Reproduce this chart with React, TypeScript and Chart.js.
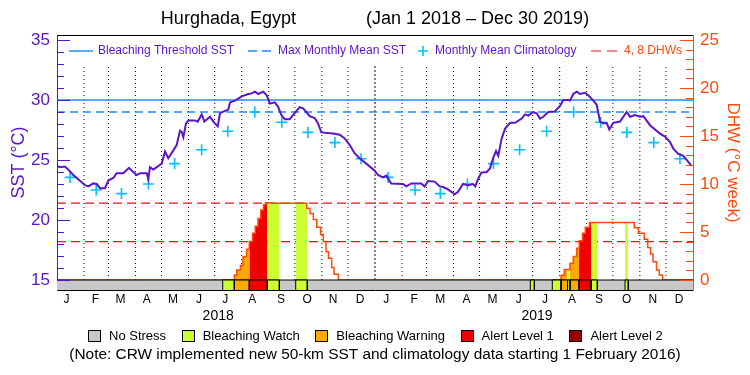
import React, { useEffect, useRef } from 'react';
import { Chart, registerables } from 'chart.js';

Chart.register(...registerables);

// ---------------- data ----------------
const monthLabels = ['J','F','M','A','M','J','J','A','S','O','N','D','J','F','M','A','M','J','J','A','S','O','N','D'];
const monthLabelDays = [11,44,73,103,133,163,193,224,257,287,317,348,378,410,440,470,500,530,560,591,622,654,684,714];
const monthStartDays = [31,59,90,120,151,181,212,243,273,304,334,396,424,455,485,516,546,577,608,638,669,699];
const yearStartDays = [365];
const yearLabels = ['2018', '2019'];
const yearLabelDays = [185, 551];

const sstDays = [0,3.4,9.2,13,18.7,24.4,32.1,35.9,41.7,45.6,49.4,55.1,58.9,64.6,68.5,76.1,82.6,87.6,91.5,95.3,103,104.8,106.7,110.5,112.5,116.3,120.2,124,127.7,133.5,137.4,141.2,143.1,145,148.1,150.7,158.4,161.5,166.1,169.1,175.6,179.4,184.5,187.1,192.8,196.6,198.6,204.3,212,219.6,223.5,227.3,231,236.8,240.7,244.5,249.9,253.7,257.5,261.4,267.1,272.8,278.6,282.4,286.1,290,295.8,299.6,303.4,316.8,324.5,330.2,336,341.7,347.4,355,364.7,368.4,374.2,378,383.7,397.1,400.9,406.7,418.1,422,425.8,433.5,439.3,443.1,448.8,456.5,460.3,466,471.7,477.5,480.1,483.2,487,493.2,497,500.8,503.9,506.5,510.4,514.2,520,525.7,533.4,537.2,541,546.7,550.6,554.4,558.2,563.9,571.6,577.3,581.1,586.9,588.8,592.6,596.5,600.3,606,609.8,615.6,619.5,623.3,627,630.9,633.9,638.5,646.2,653.9,657.7,663.4,669.2,673,680.7,686.4,692.1,697.9,703.6,707.4,713.1,718.9,724.6,728.5];
const sstValues = [24.5,24.4,24.45,24.2,23.75,23.4,22.9,22.8,23.05,23.0,22.65,22.65,23.3,23.5,23.9,23.9,24.35,24.0,23.75,23.9,23.9,23.4,24.4,24.2,24.3,24.5,24.7,25.7,25.15,25.8,26.25,27.45,27.35,26.9,28.05,28.3,28.3,28.2,28.8,28.2,28.6,28.2,27.8,28.9,29.1,29.2,29.8,29.95,30.3,30.5,30.55,30.7,30.5,30.7,30.4,29.7,29.8,29.45,28.75,28.4,28.4,28.9,29.4,29.3,29.0,28.65,28.5,28.05,27.3,27.2,27.1,26.8,26.25,25.55,25.15,24.7,24.1,23.75,23.55,23.7,23.05,23.0,22.8,23.05,23.05,22.8,23.25,23.2,22.8,22.75,22.55,22.15,22.35,23.0,22.9,23.0,22.8,23.4,23.95,24.0,24.3,25.2,25.75,25.35,26.8,27.6,28.1,28.1,28.45,28.8,28.7,29.0,28.9,28.45,28.6,29.0,29.05,29.5,30.0,30.0,29.95,30.5,30.7,30.5,30.6,30.4,29.95,29.6,28.2,28.05,28.1,27.55,28.1,28.2,29.0,28.6,28.75,28.6,28.65,27.9,27.55,27.2,26.95,26.5,25.95,25.5,25.35,24.85,24.5];

const climDays = [15,45,74,105,135,166,196,227,258,288,319,349,380,411,440,471,501,531,562,593,624,654,685,715];
const climValues = [23.55,22.5,22.2,23.0,24.7,25.85,27.4,29.0,28.15,27.3,26.45,25.1,23.55,22.5,22.2,23.0,24.7,25.85,27.4,29.0,28.15,27.3,26.45,25.1];

const mmmSst = 29.0;
const thresholdSst = 30.0;

const dhwDays = [0,203.5,206.3,210.6,213.5,217.5,220.7,224.4,227.5,230.7,233.9,237.0,239.3,247.0,286.6,290.4,294.2,298.1,302.5,305.7,308.8,311.6,315.3,318.0,322.9,578.5,582.3,588.8,592.6,596.5,599.4,603.2,606.4,611.2,662.6,667.2,674.0,678.0,681.2,684.1,688.1,691.3,695.0,730];
const dhwValues = [0,0.52,1.04,1.5,2.43,3.2,4.0,4.86,5.6,6.42,7.3,7.85,8.05,8.0,7.46,6.94,6.3,5.5,4.75,4.0,2.95,2.26,1.3,0.6,0,0.5,1.1,1.74,2.45,3.3,4.1,4.86,5.5,6.0,5.45,4.86,4.24,3.4,2.7,1.9,1.04,0.52,0,0];
const dhwRefLevels = [4, 8];

const stressStart = [190.2,203.5,220.7,241.4,274.0,543.3,568.5,578.5,586.0,588.8,599.2,613.0,652.0];
const stressEnd   = [203.5,220.7,241.4,255.2,287.3,547.9,578.5,586.0,588.8,599.2,613.0,620.2,655.7];
const stressLevel = [1,2,3,1,1,1,1,2,1,2,3,1,1];
const stressNames = ['No Stress','Bleaching Watch','Bleaching Warning','Alert Level 1','Alert Level 2'];
const stressColors = ['#C8C8C8','#CCFF33','#FFAA00','#F00000','#960000'];

const sstTicks = [15,20,25,30,35];
const dhwTicks = [0,5,10,15,20,25];

// axis ranges
const dayMin = 0, dayMax = 730;
const sstMin = 14.1667, sstMax = 35.4167;
const dhwMin = -1.0417, dhwMax = 25.5208;
const gridTop = 32.9;

// ---------------- styles ----------------
const PURPLE = '#5A14CC';
const BLUE = '#1E8CFF';
const CYAN = '#00C0FF';
const ORANGE = '#FF4A0A';
const RED = '#F01010';
const FONT = '"Liberation Sans", Arial, sans-serif';

Chart.defaults.font.family = FONT;

const xy = (xs: number[], ys: number[]) => xs.map((x, i) => ({ x, y: ys[i] }));
const vlines = (days: number[], y0: number, y1: number) =>
  days.flatMap((d) => [{ x: d, y: y0 }, { x: d, y: y1 }, { x: d, y: null as any }]);

const dhwAt = (d: number) => {
  let v = 0;
  for (let i = 0; i < dhwDays.length; i++) {
    if (dhwDays[i] <= d + 1e-9) v = dhwValues[i];
    else break;
  }
  return v;
};
const dhwSegment = (s: number, e: number) => {
  const pts = [{ x: s, y: dhwAt(s) }];
  dhwDays.forEach((d, i) => { if (d > s && d < e) pts.push({ x: d, y: dhwValues[i] }); });
  pts.push({ x: e, y: dhwAt(e - 1e-6) });
  return pts;
};

function buildDatasets(): any[] {
  const ds: any[] = [];
  const base = { pointRadius: 0, tension: 0, spanGaps: false };
  ds.push({ ...base, label: 'SST', data: xy(sstDays, sstValues), borderColor: PURPLE, borderWidth: 2, yAxisID: 'y', order: 1, fill: false });
  ds.push({ label: 'Monthly Mean Climatology', data: xy(climDays, climValues), showLine: false, pointStyle: 'cross', pointRadius: 5.5, pointBorderWidth: 1.6, borderColor: CYAN, backgroundColor: CYAN, yAxisID: 'y', order: 2 });
  stressStart.forEach((s, i) => {
    const e = stressEnd[i];
    ds.push({ ...base, label: 'stress' + i, data: [{ x: s, y: dhwMin }, { x: s, y: 0 }, { x: e, y: 0 }, { x: e, y: dhwMin }], borderColor: '#000', borderWidth: 1, backgroundColor: stressColors[stressLevel[i]], fill: 'start', yAxisID: 'yR', order: 3 });
  });
  ds.push({ ...base, label: 'No Stress bar', data: [{ x: dayMin, y: 0 }, { x: dayMax, y: 0 }], borderColor: '#000', borderWidth: 1, backgroundColor: stressColors[0], fill: 'start', yAxisID: 'yR', order: 4 });
  ds.push({ ...base, label: 'Bleaching Threshold SST', data: [{ x: dayMin, y: thresholdSst }, { x: dayMax, y: thresholdSst }], borderColor: BLUE, borderWidth: 1.5, yAxisID: 'y', order: 5 });
  ds.push({ ...base, label: 'Max Monthly Mean SST', data: [{ x: dayMin, y: mmmSst }, { x: dayMax, y: mmmSst }], borderColor: BLUE, borderWidth: 1.5, borderDash: [8, 5], yAxisID: 'y', order: 5 });
  ds.push({ ...base, label: 'DHW', data: xy(dhwDays, dhwValues), stepped: 'before', borderColor: ORANGE, borderWidth: 1.5, yAxisID: 'yR', order: 6 });
  stressStart.forEach((s, i) => {
    ds.push({ ...base, label: 'dhwfill' + i, data: dhwSegment(s, stressEnd[i]), stepped: 'before', borderColor: 'rgba(0,0,0,0)', borderWidth: 1, backgroundColor: stressColors[stressLevel[i]], fill: 'origin', yAxisID: 'yR', order: 7 });
  });
  dhwRefLevels.forEach((v) => {
    ds.push({ ...base, label: 'DHW ' + v, data: [{ x: dayMin, y: v }, { x: dayMax, y: v }], borderColor: RED, borderWidth: 1.2, borderDash: [9, 5], yAxisID: 'yR', order: 8 });
  });
  ds.push({ ...base, label: 'months', data: vlines(monthStartDays, 15, gridTop), borderColor: '#000', borderWidth: 1, borderDash: [1, 3], yAxisID: 'y', order: 9 });
  ds.push({ ...base, label: 'years', data: vlines(yearStartDays, 15, gridTop), borderColor: '#000', borderWidth: 1, borderDash: [2, 2], yAxisID: 'y', order: 9 });
  return ds;
}

const framePlugin = {
  id: 'frameAndTicks',
  afterDatasetsDraw(chart: any) {
    const { ctx, chartArea: a, scales } = chart;
    ctx.save();
    ctx.setLineDash([]);
    ctx.lineWidth = 1;
    ctx.strokeStyle = '#000';
    ctx.beginPath();
    ctx.moveTo(a.left, Math.round(a.top) + 0.5);
    ctx.lineTo(a.right, Math.round(a.top) + 0.5);
    ctx.stroke();
    ctx.strokeStyle = PURPLE;
    for (let v = 15; v <= 35; v++) {
      const p = Math.round(scales.y.getPixelForValue(v)) + 0.5;
      const len = v % 5 === 0 ? 13 : 7;
      ctx.beginPath(); ctx.moveTo(a.left, p); ctx.lineTo(a.left + len, p); ctx.stroke();
    }
    ctx.strokeStyle = ORANGE;
    for (let v = 0; v <= 25; v++) {
      const p = Math.round(scales.yR.getPixelForValue(v)) + 0.5;
      const len = v % 5 === 0 ? 13 : 7;
      ctx.beginPath(); ctx.moveTo(a.right, p); ctx.lineTo(a.right - len, p); ctx.stroke();
    }
    ctx.restore();
  },
};

const inplotLegend = {
  id: 'inplotLegend',
  afterDatasetsDraw(chart: any) {
    const { ctx, chartArea: a } = chart;
    const y = a.top + 16;
    const L = a.left;
    const line = (x0: number, x1: number) => { ctx.beginPath(); ctx.moveTo(x0, y); ctx.lineTo(x1, y); ctx.stroke(); };
    ctx.save();
    ctx.font = '12px ' + FONT;
    ctx.textBaseline = 'middle';
    ctx.textAlign = 'left';
    ctx.lineWidth = 1.5;
    ctx.strokeStyle = BLUE;
    ctx.setLineDash([]);
    line(L + 12, L + 36);
    ctx.fillStyle = PURPLE;
    ctx.fillText('Bleaching Threshold SST', L + 41, y);
    ctx.setLineDash([9, 5]);
    line(L + 191, L + 215);
    ctx.fillText('Max Monthly Mean SST', L + 221, y);
    ctx.setLineDash([]);
    ctx.strokeStyle = CYAN;
    ctx.lineWidth = 1.6;
    ctx.beginPath();
    ctx.moveTo(L + 361, y); ctx.lineTo(L + 371, y);
    ctx.moveTo(L + 366, y - 5); ctx.lineTo(L + 366, y + 5);
    ctx.stroke();
    ctx.fillText('Monthly Mean Climatology', L + 378, y);
    ctx.strokeStyle = RED;
    ctx.lineWidth = 1.2;
    ctx.setLineDash([10, 6]);
    line(L + 534, L + 561);
    ctx.fillStyle = ORANGE;
    ctx.fillText('4, 8 DHWs', L + 567, y);
    ctx.restore();
  },
};

// stress-level key under the axes
const stressLegend = {
  id: 'stressLegend',
  afterDraw(chart: any) {
    const { ctx, width, chartArea: a } = chart;
    ctx.save();
    ctx.font = '13px ' + FONT;
    ctx.textBaseline = 'middle';
    ctx.textAlign = 'left';
    const box = 12, gapText = 9, gapItem = 15.6;
    const widths = stressNames.map((t) => box + gapText + ctx.measureText(t).width);
    const total = widths.reduce((s, w) => s + w, 0) + gapItem * (stressNames.length - 1);
    let x = Math.round((width - total) / 2);
    const y = a.bottom + 46;
    stressNames.forEach((t, i) => {
      const bx = Math.round(x) + 0.5;
      ctx.fillStyle = stressColors[i];
      ctx.fillRect(bx, y - 6, box, 12);
      ctx.strokeStyle = '#000';
      ctx.lineWidth = 1;
      ctx.strokeRect(bx, y - 6 + 0.5, box, 11);
      ctx.fillStyle = '#000';
      ctx.fillText(t, x + box + gapText, y);
      x += widths[i] + gapItem;
    });
    ctx.restore();
  },
};

export default function App() {
  const ref = useRef<HTMLCanvasElement>(null);
  useEffect(() => {
    document.body.style.margin = '0';
    const chart = new Chart(ref.current as HTMLCanvasElement, {
      type: 'line',
      data: { datasets: buildDatasets() },
      options: {
        animation: false,
        responsive: false,
        devicePixelRatio: 1,
        events: [],
        layout: { padding: 0 },
        scales: {
          x: {
            type: 'linear', position: 'bottom', min: dayMin, max: dayMax, weight: 1,
            afterBuildTicks: (s: any) => { s.ticks = monthLabelDays.map((v) => ({ value: v })); },
            afterFit: (s: any) => { s.height = 16; },
            ticks: { autoSkip: false, maxRotation: 0, padding: 2.8, color: '#000', font: { size: 12 }, callback: (_v: any, i: number) => monthLabels[i] },
            grid: { display: false, drawTicks: false },
            border: { display: true, color: '#000', width: 1 },
          },
          xYear: {
            type: 'linear', position: 'bottom', min: dayMin, max: dayMax, weight: 2,
            afterBuildTicks: (s: any) => { s.ticks = yearLabelDays.map((v) => ({ value: v })); },
            afterFit: (s: any) => { s.height = 17; },
            ticks: { autoSkip: false, maxRotation: 0, padding: 1.6, color: '#000', font: { size: 14 }, callback: (_v: any, i: number) => yearLabels[i] },
            grid: { display: false, drawTicks: false },
            border: { display: false },
          },
          y: {
            type: 'linear', position: 'left', min: sstMin, max: sstMax,
            afterBuildTicks: (s: any) => { s.ticks = sstTicks.map((v) => ({ value: v })); },
            afterFit: (s: any) => { s.width = 57; },
            ticks: { padding: 7, color: PURPLE, font: { size: 17 } },
            grid: { display: false, drawTicks: false },
            border: { display: true, color: PURPLE, width: 1 },
            title: { display: true, text: 'SST (°C)', color: PURPLE, font: { size: 18 }, padding: { top: 7.8, bottom: 0 } },
          },
          yR: {
            type: 'linear', position: 'right', min: dhwMin, max: dhwMax,
            afterBuildTicks: (s: any) => { s.ticks = dhwTicks.map((v) => ({ value: v })); },
            afterFit: (s: any) => { s.width = 57; },
            ticks: { padding: 7, color: ORANGE, font: { size: 17 } },
            grid: { display: false, drawTicks: false },
            border: { display: true, color: ORANGE, width: 1 },
            title: { display: true, text: 'DHW (°C week)', color: ORANGE, font: { size: 17 }, padding: { top: 7.4, bottom: 0 } },
          },
        },
        plugins: {
          tooltip: { enabled: false },
          legend: { display: false },
          title: {
            display: true,
            text: 'Hurghada, Egypt              (Jan 1 2018 – Dec 30 2019)',
            color: '#000',
            font: { size: 18, weight: 'normal', lineHeight: 1.2 },
            padding: { top: 8.5, bottom: 4.9 },
          },
          subtitle: {
            display: true,
            position: 'bottom',
            text: '(Note: CRW implemented new 50-km SST and climatology data starting 1 February 2016)',
            color: '#000',
            font: { size: 15.4, weight: 'normal', lineHeight: 1.2 },
            padding: { top: 22.6, bottom: 10.9 },
          },
        },
      } as any,
      plugins: [framePlugin, inplotLegend, stressLegend],
    });
    return () => chart.destroy();
  }, []);
  return (
    <div style={{ width: 750, height: 375 }}>
      <canvas ref={ref} width={750} height={375} style={{ display: 'block', width: 750, height: 375 }} />
    </div>
  );
}
